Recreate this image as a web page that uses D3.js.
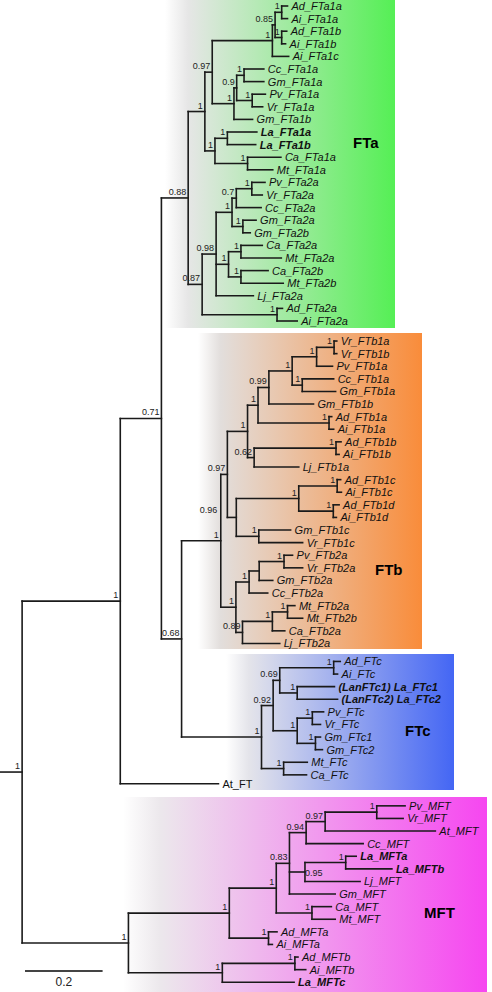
<!DOCTYPE html>
<html><head><meta charset="utf-8">
<script src="https://cdn.jsdelivr.net/npm/d3@7"></script>
<style>body{margin:0;background:#fff}svg{display:block}</style>
</head><body>
<svg id="c" width="492" height="992"></svg>
<script>
// ---------- DATA (branch lengths in substitutions/site, internal labels = posterior support) ----------
const ftaClade = "((((((Ad_FTa1a:0.015,Ai_FTa1a:0.015)1:0.017,(Ad_FTa1b:0.013,Ai_FTa1b:0.010)1:0.017)0.85:0.007,Ai_FTa1c:0.042)1:0.155,(((Cc_FTa1a:0.051,Gm_FTa1a:0.051)1:0.019,(Pv_FTa1a:0.034,Vr_FTa1a:0.027)1:0.040)0.9:0.007,Gm_FTa1b:0.048)1:0.056)0.97:0.019,((La_FTa1a:0.076,La_FTa1b:0.073)1:0.032,(Ca_FTa1a:0.086,Mt_FTa1a:0.065)1:0.084)1:0.026)1:0.043,(((((Pv_FTa2a:0.034,Vr_FTa2a:0.027)1:0.040,Cc_FTa2a:0.064)0.7:0.011,(Gm_FTa2a:0.034,Gm_FTa2b:0.019)1:0.028)1:0.041,((Ca_FTa2a:0.055,Mt_FTa2a:0.104)1:0.032,(Ca_FTa2b:0.070,Mt_FTa2b:0.109)1:0.032)1:0.032,Lj_FTa2a:0.096)0.98:0.036,(Ad_FTa2a:0.014,Ai_FTa2a:0.052)1:0.193)0.87:0.036)0.88:0.069";
const ftbClade = "((((((((Vr_FTb1a:0.007,Vr_FTb1b:0.007)1:0.045,Pv_FTb1a:0.041)1:0.063,(Cc_FTb1a:0.081,Gm_FTb1a:0.086)1:0.026)1:0.060,Gm_FTb1b:0.115)0.99:0.028,(Ad_FTb1a:0.007,Ai_FTb1a:0.012)1:0.183)1:0.027,((Ad_FTb1b:0.013,Ai_FTb1b:0.008)1:0.211,Lj_FTb1a:0.115)0.62:0.017)1:0.052,(((Ad_FTb1c:0.009,Ai_FTb1c:0.011)1:0.099,(Ad_FTb1d:0.015,Ai_FTb1d:0.008)1:0.089)1:0.161,(Gm_FTb1c:0.082,Vr_FTb1c:0.113)1:0.058)0.96:0.023)0.97:0.017,((((Pv_FTb2a:0.022,Vr_FTb2a:0.048)1:0.064,Gm_FTb2a:0.035):0.026,Cc_FTb2a:0.048)1:0.034,(((Mt_FTb2a:0.019,Mt_FTb2b:0.039)1:0.039,Ca_FTb2a:0.032)1:0.077,Lj_FTb2a:0.096)0.89:0.017)1:0.039)1:0.101";
const ftcClade = "((((Ad_FTc:0.017,Ai_FTc:0.010)1:0.139,(La_FTc1:0.096,La_FTc2:0.104)1:0.045)0.69:0.017,((Pv_FTc:0.029,Vr_FTc:0.021)1:0.039,(Gm_FTc1:0.013,Gm_FTc2:0.018)1:0.047)1:0.062)0.92:0.030,(Mt_FTc:0.061,Ca_FTc:0.059)1:0.057)1:0.206";
const mftClade = "(((((((Pv_MFT:0.073,Vr_MFT:0.068)1:0.133,At_MFT:0.284)0.97:0.049,Cc_MFT:0.147)0.94:0.043,((La_MFTa:0.027,La_MFTb:0.119)1:0.105,Lj_MFT:0.142)0.95:0.040,Gm_MFT:0.118)0.83:0.034,(Ca_MFT:0.050,Mt_MFT:0.060)1:0.092)1:0.121,(Ad_MFTa:0.022,Ai_MFTa:0.010)1:0.101)1:0.260,((Ad_MFTb:0.008,Ai_MFTb:0.028)1:0.187,La_MFTc:0.185)1:0.242)1:0.274";
const outgroup = "At_FT:0.253";
const backbone = { ftbc: "0.68:0.052", ft: "0.71:0.106", ftAll: "1:0.253", root: "1:0.057" };
const treeNewick = `(((${ftaClade},(${ftbClade},${ftcClade})${backbone.ftbc})${backbone.ft},${outgroup})${backbone.ftAll},${mftClade})${backbone.root};`;

const cladeLabels = ["FTa", "FTb", "FTc", "MFT"];
const displayNames = { La_FTc1: "(LanFTc1) La_FTc1", La_FTc2: "(LanFTc2) La_FTc2" };
const boldLeaves = ["La_FTa1a", "La_FTa1b", "La_FTc1", "La_FTc2", "La_MFTa", "La_MFTb", "La_MFTc"];
const uprightLeaves = ["At_FT"];
const scaleBarValue = 0.2;
const scaleBarLabel = "0.2";

// ---------- LAYOUT / STYLE ----------
const FONT = "'Liberation Sans', Arial, Helvetica, sans-serif";
const xScale = d3.scaleLinear().domain([0, 1]).range([0, 388]);
const yScale = d3.scaleLinear().domain([0, 1]).range([6, 18.6]);
const rowGap = { Vr_FTb1a: 0.59, Ad_FTc: 0.43, At_FT: -0.29, Pv_MFT: 0.75 };
const boxes = {
  FTa: { x0: 165, y0: 0, x1: 395, y1: 328, c: "#55ef55", mid: "#e6e6e6", lx: 353, ly: 143 },
  FTb: { x0: 198, y0: 333, x1: 422, y1: 649, c: "#f98c3a", mid: "#e2dedc", lx: 375, ly: 570 },
  FTc: { x0: 226, y0: 654, x1: 454, y1: 790, c: "#4466f4", mid: "#e4e4ea", lx: 405, ly: 731 },
  MFT: { x0: 123, y0: 797, x1: 487, y1: 992, c: "#f646f0", mid: "#ece8ec", lx: 424, ly: 913 }
};
const labelOverride = { "0.96": { dx: -17, dy: -1 }, "0.95": { anchor: "start", dx: 2, dy: 7 } };

function parseNewick(s) {
  let i = 0;
  function node() {
    const n = { children: [] };
    if (s[i] === "(") {
      i++;
      n.children.push(node());
      while (s[i] === ",") { i++; n.children.push(node()); }
      i++;
    }
    let name = "";
    while (i < s.length && !":,();".includes(s[i])) name += s[i++];
    n.name = name.trim();
    if (s[i] === ":") {
      i++; let l = "";
      while (i < s.length && !",();".includes(s[i])) l += s[i++];
      n.length = +l;
    } else n.length = 0;
    return n;
  }
  return node();
}

const root = d3.hierarchy(parseNewick(treeNewick), d => d.children.length ? d.children : null);
root.each(d => { d.dist = (d.parent ? d.parent.dist : 0) + d.data.length; d.px = xScale(d.dist); });
let row = 0;
root.leaves().forEach((l, i) => {
  if (i > 0) row += 1 + (rowGap[l.data.name] || 0);
  l.py = yScale(row);
});
root.eachAfter(d => {
  if (d.children) d.py = (d.children[0].py + d.children[d.children.length - 1].py) / 2;
});

const svg = d3.select("#c");
const defs = svg.append("defs");
cladeLabels.forEach(k => {
  const b = boxes[k];
  const g = defs.append("linearGradient").attr("id", "g" + k).attr("x1", 0).attr("x2", 1).attr("y1", 0).attr("y2", 0);
  g.append("stop").attr("offset", 0).attr("stop-color", "#ffffff");
  g.append("stop").attr("offset", 0.1).attr("stop-color", b.mid);
  g.append("stop").attr("offset", 1).attr("stop-color", b.c);
  svg.append("rect").attr("x", b.x0).attr("y", b.y0).attr("width", b.x1 - b.x0).attr("height", b.y1 - b.y0)
    .attr("fill", `url(#g${k})`);
});

const lines = svg.append("g").attr("stroke", "#1a1a1a").attr("stroke-width", 1.6).attr("fill", "none").attr("stroke-linecap", "square");
root.descendants().forEach(d => {
  const x0 = d.parent ? d.parent.px : xScale(0);
  lines.append("line").attr("x1", x0).attr("x2", d.px).attr("y1", d.py).attr("y2", d.py);
  if (d.children) {
    lines.append("line").attr("x1", d.px).attr("x2", d.px)
      .attr("y1", d.children[0].py).attr("y2", d.children[d.children.length - 1].py);
  }
});

// support labels
const sup = svg.append("g").attr("font-family", FONT).attr("font-size", 9).attr("fill", "#222");
root.descendants().filter(d => d.children && d.data.name !== "").forEach(d => {
  const o = labelOverride[d.data.name] || {};
  sup.append("text").attr("x", d.px - 2 + (o.dx || 0)).attr("y", d.py - 3 + (o.dy || 0))
    .attr("text-anchor", o.anchor || "end").text(d.data.name);
});

// leaf labels
const lab = svg.append("g").attr("font-family", FONT).attr("font-size", 11).attr("fill", "#111");
root.leaves().forEach(l => {
  const n = l.data.name;
  lab.append("text").attr("x", l.px + 4).attr("y", l.py).attr("dy", "0.36em")
    .attr("font-style", uprightLeaves.includes(n) ? "normal" : "italic")
    .attr("font-weight", boldLeaves.includes(n) ? "bold" : "normal")
    .text(displayNames[n] || n);
});

// clade labels
cladeLabels.forEach(k => {
  svg.append("text").attr("x", boxes[k].lx).attr("y", boxes[k].ly).attr("dy", "0.36em")
    .attr("font-family", FONT).attr("font-size", 15).attr("font-weight", "bold").attr("fill", "#000").text(k);
});

// scale bar
const sbx = 25, sby = 971;
svg.append("line").attr("x1", sbx).attr("x2", sbx + xScale(scaleBarValue) - xScale(0)).attr("y1", sby).attr("y2", sby)
  .attr("stroke", "#444").attr("stroke-width", 2.2);
svg.append("text").attr("x", sbx + (xScale(scaleBarValue) - xScale(0)) / 2).attr("y", sby + 15)
  .attr("text-anchor", "middle").attr("font-family", FONT).attr("font-size", 12).attr("fill", "#222").text(scaleBarLabel);
</script>
</body></html>
